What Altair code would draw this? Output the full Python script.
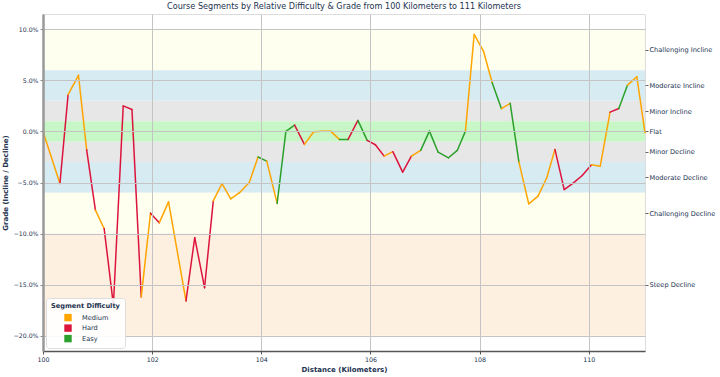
import altair as alt
import pandas as pd

# ---- data ----
distance = [100.00, 100.31, 100.46, 100.65, 100.80, 100.96, 101.12, 101.29, 101.47, 101.63,
            101.80, 101.97, 102.13, 102.30, 102.62, 102.78, 102.96, 103.12, 103.28, 103.44,
            103.60, 103.78, 103.94, 104.10, 104.29, 104.45, 104.61, 104.79, 104.96, 105.11,
            105.27, 105.43, 105.59, 105.77, 105.94, 106.09, 106.25, 106.41, 106.59, 106.75,
            106.92, 107.08, 107.24, 107.43, 107.59, 107.74, 107.90, 108.07, 108.23, 108.40,
            108.56, 108.72, 108.90, 109.07, 109.23, 109.38, 109.55, 109.72, 109.88, 110.05,
            110.21, 110.39, 110.55, 110.71, 110.88, 111.03]
grade = [0.0, -5.1, 3.6, 5.5, -1.8, -7.7, -9.5, -17.0, 2.5, 2.15,
         -16.2, -8.0, -8.95, -6.9, -16.6, -10.4, -15.3, -6.8, -5.1, -6.6,
         -6.0, -5.0, -2.5, -2.9, -7.05, 0.0, 0.62, -1.27, -0.03, 0.03,
         0.03, -0.78, -0.78, 1.08, -0.88, -1.3, -2.42, -1.98, -3.99, -2.42,
         -1.86, 0.03, -2.03, -2.58, -1.86, 0.03, 9.5, 7.87, 4.77, 2.23,
         2.75, -3.0, -7.09, -6.34, -4.54, -1.76, -5.69, -5.03, -4.31, -3.26,
         -3.4, 1.89, 2.25, 4.54, 5.36, -0.13]
# difficulty of the segment starting at each point (one fewer than points)
difficulty = ["Medium", "Hard", "Medium", "Medium", "Hard", "Medium", "Hard", "Hard", "Hard", "Hard",
              "Medium", "Hard", "Medium", "Medium", "Hard", "Hard", "Hard", "Medium", "Medium", "Medium",
              "Medium", "Medium", "Easy", "Medium", "Easy", "Easy", "Hard", "Medium", "Medium", "Medium",
              "Medium", "Easy", "Hard", "Easy", "Hard", "Hard", "Medium", "Hard", "Hard", "Medium",
              "Easy", "Easy", "Easy", "Easy", "Easy", "Medium", "Medium", "Medium", "Easy", "Medium",
              "Easy", "Medium", "Medium", "Medium", "Medium", "Hard", "Hard", "Hard", "Hard", "Medium",
              "Medium", "Hard", "Easy", "Medium", "Medium"]

band_name = ["Challenging Incline", "Moderate Incline", "Minor Incline", "Flat",
             "Minor Decline", "Moderate Decline", "Challenging Decline", "Steep Decline"]
band_high = [10, 6, 3, 1, -1, -3, -6, -10]
band_low = [6, 3, 1, -1, -3, -6, -10, -20]
band_mid = [8, 4.5, 2, 0, -2, -4.5, -8, -15]
band_color = ["#fffff0", "#d6ebf2", "#e7e7e7", "#c7f6c7", "#e7e7e7", "#d6ebf2", "#fffff0", "#fef0e0"]

legend_order = ["Medium", "Hard", "Easy"]
legend_colors = ["#FFA500", "#DC143C", "#2CA02C"]

x_ticks = [100, 102, 104, 106, 108, 110]
y_ticks = [-20, -15, -10, -5, 0, 5, 10]

# ---- tables ----
seg_df = pd.DataFrame({
    "x": distance[:-1], "y": grade[:-1],
    "x2": distance[1:], "y2": grade[1:],
    "difficulty": difficulty,
})
key_df = pd.DataFrame({"Segment Difficulty": legend_order})

FONT = "DejaVu Sans"
TXT = "#22324f"
W, H = 602, 337

xscale = alt.Scale(domain=[100, 111.03], nice=False, zero=False)
yscale = alt.Scale(domain=[-21.5, 11.5], nice=False, zero=False)

x_axis = alt.Axis(values=x_ticks, format="d", title="Distance (Kilometers)",
                  titleFontWeight="bold", titleFontSize=7, titleColor=TXT, titlePadding=3,
                  labelFontSize=6.3, labelColor=TXT, labelFont=FONT, titleFont=FONT,
                  tickSize=3, tickColor="#555", domainColor="#555", domainWidth=1.5,
                  grid=True, gridColor="#c4c4c4", gridWidth=1, zindex=1, labelPadding=2,
                  labelFlush=False)

y_label_expr = "format(datum.value, '.1f') + '%'"
y_axis = alt.Axis(values=y_ticks, labelExpr=y_label_expr, title="Grade (Incline / Decline)",
                  titleFontWeight="bold", titleFontSize=7, titleColor=TXT, titleFont=FONT,
                  labelFontSize=6.2, labelColor=TXT, labelFont=FONT, titlePadding=5,
                  tickSize=3, tickColor="#888", domainColor="#999", domainWidth=2.5,
                  grid=True, gridColor="#c4c4c4", gridWidth=1, zindex=1, labelPadding=2,
                  labelFlush=False)

right_expr = ""
for v, n in zip(band_mid, band_name):
    right_expr += f"datum.value == {v} ? '{n}' : "
right_expr += "''"
right_axis = alt.Axis(orient="right", values=band_mid, labelExpr=right_expr, title=None,
                      grid=False, domain=False, tickSize=3, tickColor="#666",
                      labelFontSize=6.6, labelColor=TXT, labelFont=FONT, labelPadding=1,
                      zindex=1, labelFlush=False)

bands_df = pd.DataFrame({"name": band_name, "high": band_high, "low": band_low,
                         "mid": band_mid, "color": band_color})

bands = alt.Chart(bands_df).mark_rect().encode(
    y=alt.Y("low:Q", scale=yscale, axis=y_axis),
    y2="high:Q",
    fill=alt.Fill("color:N", scale=None),
)

right = alt.Chart(bands_df).mark_point(opacity=0).encode(
    y=alt.Y("mid:Q", scale=yscale, axis=right_axis),
)

segments = alt.Chart(seg_df).mark_rule(strokeWidth=1.5, strokeCap="round").encode(
    x=alt.X("x:Q", scale=xscale, axis=x_axis),
    x2="x2:Q",
    y=alt.Y("y:Q", scale=yscale, axis=None),
    y2="y2:Q",
    stroke=alt.Stroke("difficulty:N", scale=alt.Scale(domain=legend_order, range=legend_colors),
                      legend=None),
)

# invisible layer that only carries the legend (filled squares)
legend_layer = alt.Chart(key_df).mark_square(filled=True, size=0.01, opacity=1).encode(
    color=alt.Color("Segment Difficulty:N",
                    scale=alt.Scale(domain=legend_order, range=legend_colors),
                    legend=alt.Legend(title="Segment Difficulty", orient="bottom-left", offset=3,
                                      titleFontSize=6.6, titleFontWeight="bold", titleColor=TXT,
                                      titleFont=FONT, labelFont=FONT, labelFontSize=6.6,
                                      labelColor=TXT, symbolType="square", symbolSize=55,
                                      symbolOffset=13, labelOffset=10, rowPadding=2.5,
                                      padding=5, fillColor="rgba(255,255,255,0.9)",
                                      strokeColor="#dddddd", cornerRadius=3,
                                      symbolStrokeWidth=0, symbolOpacity=1,
                                      titlePadding=4, zindex=2)),
)

chart = alt.layer(bands, right, segments, legend_layer).resolve_axis(
    y="independent"
).resolve_scale(color="independent", stroke="independent").properties(
    width=W, height=H,
    autosize=alt.AutoSizeParams(type="none"),
    padding={"left": 43, "top": 14, "right": 75, "bottom": 26},
    title=alt.TitleParams("Course Segments by Relative Difficulty & Grade from 100 Kilometers to 111 Kilometers",
                          fontSize=8.1, font=FONT, fontWeight="normal", color=TXT,
                          anchor="middle", frame="group", offset=3),
).configure_view(stroke=None).configure(background="white")

chart.save("out.html", embed_options={"renderer": "svg", "actions": False})
